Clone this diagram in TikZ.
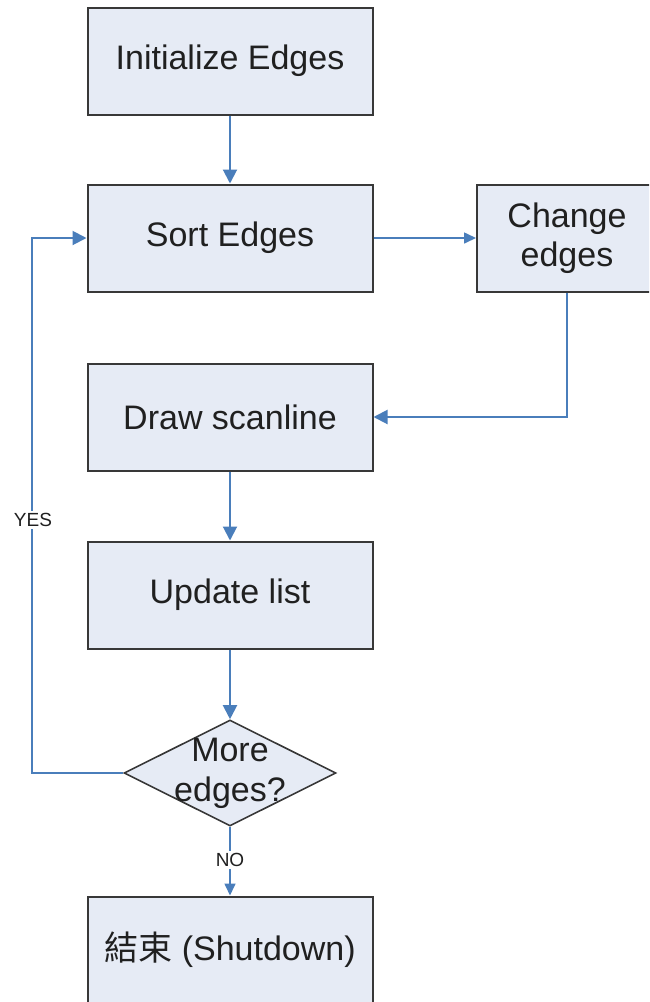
\documentclass[tikz,border=0pt]{standalone}
\usepackage{fontspec}
\setmainfont{Liberation Sans}
\newfontfamily\cjk{Noto Sans CJK TC}
\usetikzlibrary{arrows.meta,shapes.geometric}
\definecolor{boxfill}{HTML}{E6EBF5}
\definecolor{boxline}{HTML}{383838}
\definecolor{flowblue}{HTML}{4A7EBB}
\definecolor{textgray}{HTML}{202020}

\begin{document}
\begin{tikzpicture}[x=0.5pt,y=-0.5pt,
    stepbox/.style={draw=boxline,fill=boxfill,line width=1pt,minimum width=142.5pt,minimum height=53.5pt,
      inner sep=0pt,text=textgray,font=\fontsize{17}{19.5}\selectfont,align=center},
    decision/.style={diamond,draw=boxline,fill=boxfill,line width=0.8pt,minimum width=106pt,minimum height=53pt,inner sep=0pt},
    flow/.style={draw=flowblue,line width=1pt,-{Triangle[length=7pt,width=7pt]}},
    answer/.style={fill=white,inner sep=1pt,text=textgray,font=\fontsize{9.5}{11}\selectfont}]
    \useasboundingbox (0,0) rectangle (649,1002);
    \clip (0,0) rectangle (649,1002);
    % boxes of the flow
    \node[stepbox] (init) at (230,61) {Initialize Edges};
    \node[stepbox] (sort) at (230,238) {Sort Edges};
    \node[stepbox,minimum width=90pt] (change) at (567,238) {Change\\edges};
    \node[stepbox] (scan) at (230,417) {Draw scanline};
    \node[stepbox] (update) at (230,595) {Update list};
    \node[decision] (more) at (230,773) {};
    \node[text=textgray,font=\fontsize{17}{20}\selectfont,align=center] (moretext) at (more) {More\\edges?};
    \node[stepbox] (stop) at (230,950) {{\cjk 結束} (Shutdown)};
    % connectors
    \draw[flow] (init) -- (sort);
    \draw[flow,line width=0.8pt,-{Triangle[length=6pt,width=5.5pt]}] (sort) -- (change);
    \draw[flow] (change.south) |- (scan.east);
    \draw[flow] (scan) -- (update);
    \draw[flow] (update) -- (more);
    \draw[flow] (more.west) -- ++(-91,0) |- (sort.west);
    \draw[flow,line width=0.8pt,-{Triangle[length=6pt,width=5.5pt]}] (more.south) -- (stop.north);
    \node[answer] (yes) at (33,520) {YES};
    \node[answer] (no) at (230,860) {NO};
  \end{tikzpicture}
\end{document}
